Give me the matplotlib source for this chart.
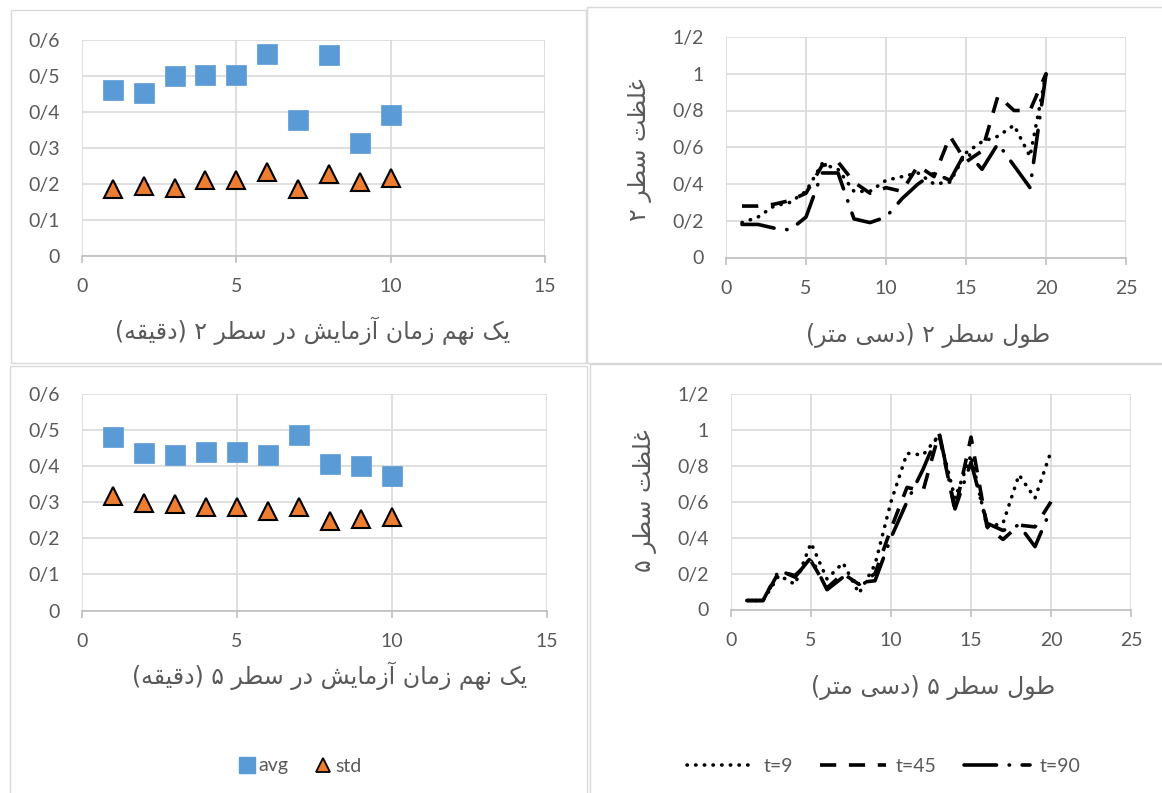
import matplotlib
matplotlib.use("Agg")
import matplotlib.pyplot as plt
from matplotlib.lines import Line2D
from matplotlib.patches import Rectangle
from matplotlib.ticker import FuncFormatter, MultipleLocator

# ---------------- data ----------------
minutes = [1, 2, 3, 4, 5, 6, 7, 8, 9, 10]
avg_row2 = [0.460, 0.452, 0.500, 0.502, 0.502, 0.561, 0.377, 0.559, 0.315, 0.393]
std_row2 = [0.187, 0.195, 0.189, 0.210, 0.210, 0.234, 0.186, 0.229, 0.206, 0.218]
avg_row5 = [0.482, 0.436, 0.430, 0.439, 0.439, 0.430, 0.486, 0.406, 0.401, 0.373]
std_row5 = [0.316, 0.297, 0.295, 0.286, 0.286, 0.276, 0.288, 0.248, 0.254, 0.259]

length = list(range(1, 21))
row2_t9 = [0.19, 0.22, 0.28, 0.30, 0.36, 0.51, 0.48, 0.36, 0.36, 0.42,
           0.44, 0.46, 0.40, 0.41, 0.57, 0.63, 0.66, 0.72, 0.55, 1.00]
row2_t45 = [0.28, 0.28, 0.29, 0.31, 0.35, 0.50, 0.52, 0.41, 0.35, 0.38,
            0.36, 0.50, 0.44, 0.66, 0.52, 0.58, 0.88, 0.80, 0.80, 1.00]
row2_t90 = [0.18, 0.18, 0.16, 0.15, 0.22, 0.46, 0.46, 0.21, 0.19, 0.22,
            0.32, 0.40, 0.46, 0.42, 0.58, 0.48, 0.62, 0.50, 0.38, 1.00]
row5_t9 = [0.05, 0.05, 0.19, 0.14, 0.37, 0.17, 0.26, 0.09, 0.25, 0.60,
           0.87, 0.86, 0.97, 0.62, 0.86, 0.46, 0.48, 0.75, 0.62, 0.88]
row5_t45 = [0.05, 0.05, 0.21, 0.19, 0.27, 0.12, 0.20, 0.14, 0.20, 0.45,
            0.68, 0.66, 0.98, 0.55, 0.96, 0.46, 0.39, 0.47, 0.46, 0.60]
row5_t90 = [0.05, 0.05, 0.22, 0.18, 0.29, 0.11, 0.18, 0.15, 0.16, 0.40,
            0.60, 0.78, 0.99, 0.56, 0.82, 0.48, 0.44, 0.47, 0.35, 0.56]

series_labels = ["t=9", "t=45", "t=90"]
scatter_labels = ["avg", "std"]

xlabel_tl = "یک نهم زمان آزمایش در سطر ۲ (دقیقه)"
xlabel_bl = "یک نهم زمان آزمایش در سطر ۵ (دقیقه)"
xlabel_tr = "طول سطر ۲ (دسی متر)"
xlabel_br = "طول سطر ۵ (دسی متر)"
ylabel_tr = "غلظت سطر ۲"
ylabel_br = "غلظت سطر ۵"

# ---------------- Persian shaping ----------------
# (isolated, final[, initial, medial]) presentation forms
FORMS = {
    "\u0627": ("\uFE8D", "\uFE8E"),
    "\u0622": ("\uFE81", "\uFE82"),
    "\u062F": ("\uFEA9", "\uFEAA"),
    "\u0631": ("\uFEAD", "\uFEAE"),
    "\u0632": ("\uFEAF", "\uFEB0"),
    "\u0648": ("\uFEED", "\uFEEE"),
    "\u062A": ("\uFE95", "\uFE96", "\uFE97", "\uFE98"),
    "\u0633": ("\uFEB1", "\uFEB2", "\uFEB3", "\uFEB4"),
    "\u0634": ("\uFEB5", "\uFEB6", "\uFEB7", "\uFEB8"),
    "\u0637": ("\uFEC1", "\uFEC2", "\uFEC3", "\uFEC4"),
    "\u0638": ("\uFEC5", "\uFEC6", "\uFEC7", "\uFEC8"),
    "\u063A": ("\uFECD", "\uFECE", "\uFECF", "\uFED0"),
    "\u0642": ("\uFED5", "\uFED6", "\uFED7", "\uFED8"),
    "\u0644": ("\uFEDD", "\uFEDE", "\uFEDF", "\uFEE0"),
    "\u0645": ("\uFEE1", "\uFEE2", "\uFEE3", "\uFEE4"),
    "\u0646": ("\uFEE5", "\uFEE6", "\uFEE7", "\uFEE8"),
    "\u0647": ("\uFEE9", "\uFEEA", "\uFEEB", "\uFEEC"),
    "\u06CC": ("\uFEEF", "\uFEF0", "\uFEF3", "\uFEF4"),
    "\u06A9": ("\uFB8E", "\uFB8F", "\uFB90", "\uFB91"),
}


def shape_rtl(text):
    chars = list(text)
    out = []
    for i, c in enumerate(chars):
        if c not in FORMS:
            out.append(c)
            continue
        f = FORMS[c]
        prev = chars[i - 1] if i > 0 else None
        nxt = chars[i + 1] if i + 1 < len(chars) else None
        join_prev = prev in FORMS and len(FORMS[prev]) == 4
        join_next = len(f) == 4 and nxt in FORMS
        if join_prev and join_next:
            out.append(f[3])
        elif join_prev:
            out.append(f[1])
        elif join_next:
            out.append(f[2])
        else:
            out.append(f[0])
    vis = "".join(reversed(out))
    return vis.translate(str.maketrans("()", ")("))


# ---------------- figure ----------------
W, H = 1162, 793
fig = plt.figure(figsize=(W / 100, H / 100), dpi=100)
fig.patch.set_facecolor("white")

TXT = "#595959"
GRID = "#D9D9D9"
AXIS = "#BFBFBF"
NUM_FONT = ["Lato", "DejaVu Sans"]
FA_FONT = ["DejaVu Sans"]


def rect(x0, y0, x1, y1):
    return [x0 / W, 1 - y1 / H, (x1 - x0) / W, (y1 - y0) / H]


# chart frames
for x0, y0, x1, y1 in [(11, 10, 586, 363), (587, 7, 1175, 363),
                       (10, 366, 587, 805), (590, 364, 1175, 805)]:
    fig.add_artist(Rectangle((x0 / W, 1 - y1 / H), (x1 - x0) / W, (y1 - y0) / H,
                             transform=fig.transFigure, fill=False,
                             edgecolor=GRID, lw=1.0))


def slash_fmt(v, pos):
    s = f"{v:.1f}"
    if s.endswith(".0"):
        s = s[:-2]
    return s.replace(".", "/")


def style_axes(ax, xmax, xstep, ymax, ystep):
    ax.set_xlim(0, xmax)
    ax.set_ylim(0, ymax)
    ax.xaxis.set_major_locator(MultipleLocator(xstep))
    ax.yaxis.set_major_locator(MultipleLocator(ystep))
    ax.yaxis.set_major_formatter(FuncFormatter(slash_fmt))
    ax.grid(True, color=GRID, lw=1.2, zorder=0)
    ax.set_axisbelow(True)
    for s in ("left", "right", "top"):
        ax.spines[s].set_visible(False)
    ax.spines["bottom"].set_color(AXIS)
    ax.spines["bottom"].set_linewidth(1.2)
    ax.tick_params(axis="x", direction="out", length=5, width=1.2, color=AXIS,
                   pad=11, labelsize=14, labelcolor=TXT)
    ax.tick_params(axis="y", length=0, pad=16, labelsize=14, labelcolor=TXT)
    for lab in ax.get_xticklabels() + ax.get_yticklabels():
        lab.set_fontfamily(NUM_FONT)


def scatter_panel(ax, avg, std):
    style_axes(ax, 15, 5, 0.6, 0.1)
    ax.plot(minutes, avg, ls="none", marker="s", ms=14, mfc="#5B9BD5",
            mec="#5B9BD5", mew=0.5, zorder=3)
    ax.plot(minutes, std, ls="none", marker="^", ms=13, mfc="#ED7D31",
            mec="black", mew=1.5, zorder=3)


LS_T9 = dict(ls=(0, (0.1, 2.3)), dash_capstyle="round")
LS_T45 = dict(ls=(0, (4.5, 3.5)), dash_capstyle="butt")
LS_T90 = dict(ls=(0, (9, 3.5, 0.1, 3.5)), dash_capstyle="round")
LW = 2.6


def line_panel(ax, a, b, c):
    style_axes(ax, 25, 5, 1.2, 0.2)
    ax.plot(length, a, color="black", lw=LW, zorder=3, **LS_T9)
    ax.plot(length, b, color="black", lw=LW, zorder=3, **LS_T45)
    ax.plot(length, c, color="black", lw=LW, zorder=3, **LS_T90)


ax_tl = fig.add_axes(rect(82, 40, 545, 256))
scatter_panel(ax_tl, avg_row2, std_row2)
ax_bl = fig.add_axes(rect(82, 394, 547, 610.5))
scatter_panel(ax_bl, avg_row5, std_row5)
ax_tr = fig.add_axes(rect(726, 37, 1126, 257.5))
line_panel(ax_tr, row2_t9, row2_t45, row2_t90)
ax_br = fig.add_axes(rect(731, 394, 1131, 609.5))
line_panel(ax_br, row5_t9, row5_t45, row5_t90)

# axis titles
def fa_text(x, y, s, rot=0, size=17):
    fig.text(x / W, 1 - y / H, shape_rtl(s), ha="center", va="center",
             rotation=rot, fontsize=size, color=TXT, fontfamily=FA_FONT)


fa_text(313, 331, xlabel_tl)
fa_text(330, 676, xlabel_bl)
fa_text(928, 336, xlabel_tr)
fa_text(933, 687, xlabel_br)
fa_text(640, 150, ylabel_tr, rot=90)
fa_text(645, 501, ylabel_br, rot=90)

# legends
h_sc = [Line2D([], [], ls="none", marker="s", ms=11, mfc="#5B9BD5", mec="#5B9BD5"),
        Line2D([], [], ls="none", marker="^", ms=10, mfc="#ED7D31", mec="black", mew=1.3)]
leg1 = fig.legend(h_sc, scatter_labels, loc="center", bbox_to_anchor=(300 / W, 1 - 766 / H),
                  ncol=2, frameon=False, handlelength=0.8, handletextpad=0.2,
                  columnspacing=1.4, prop={"family": NUM_FONT, "size": 14})
for t in leg1.get_texts():
    t.set_color(TXT)

h_ln = [Line2D([], [], color="black", lw=LW, **LS_T9),
        Line2D([], [], color="black", lw=LW, **LS_T45),
        Line2D([], [], color="black", lw=LW, **LS_T90)]
leg2 = fig.legend(h_ln, series_labels, loc="center", bbox_to_anchor=(884 / W, 1 - 766 / H),
                  ncol=3, frameon=False, handlelength=3.4, handletextpad=0.5,
                  columnspacing=1.4, prop={"family": NUM_FONT, "size": 14})
for t in leg2.get_texts():
    t.set_color(TXT)

fig.savefig("out.png", dpi=100)
